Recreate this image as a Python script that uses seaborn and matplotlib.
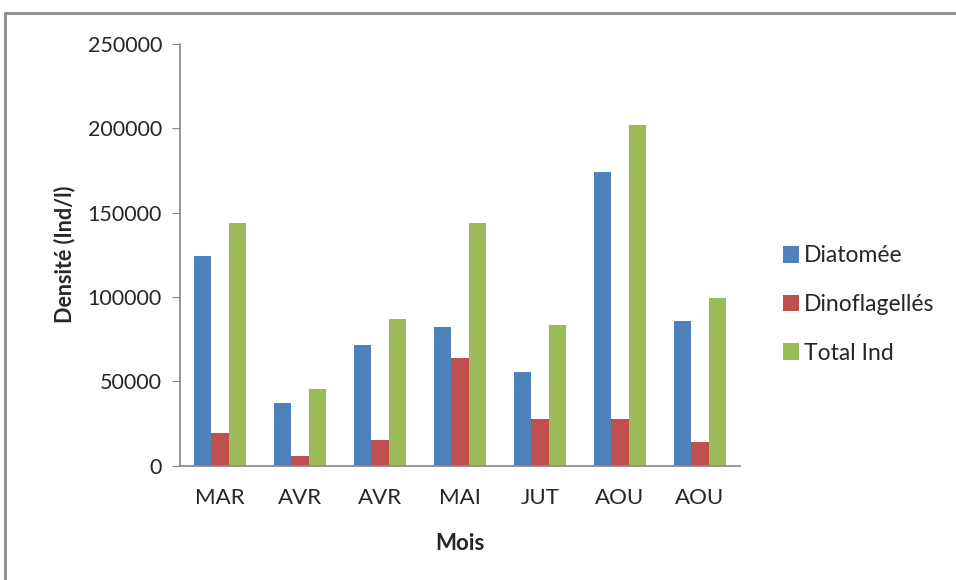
import pandas as pd
import seaborn as sns
import matplotlib.pyplot as plt
from matplotlib.patches import Rectangle

mois = ['MAR', 'AVR', 'AVR', 'MAI', 'JUT', 'AOU', 'AOU']
diatomee = [124000, 37000, 71500, 82000, 55500, 174000, 86000]
dinoflagelles = [19000, 5600, 15000, 63800, 27400, 27400, 13700]
total_ind = [144000, 45500, 87000, 144000, 83500, 202000, 99500]
series = ['Diatomée', 'Dinoflagellés', 'Total Ind']

rows = []
for i, m in enumerate(mois):
    for s, vals in zip(series, [diatomee, dinoflagelles, total_ind]):
        rows.append({'pos': i, 'serie': s, 'val': vals[i]})
df = pd.DataFrame(rows)

sns.set_style('white')
plt.rcParams['font.family'] = ['Lato', 'DejaVu Sans']

fig = plt.figure(figsize=(9.56, 5.8), dpi=100)
ax = fig.add_axes([0.1883, 0.1974, 0.5858, 0.7267])

sns.barplot(data=df, x='pos', y='val', hue='serie', hue_order=series,
            palette=['#4F81BD', '#C0504D', '#9BBB59'], width=0.66, gap=0,
            errorbar=None, saturation=1, ax=ax, edgecolor='none')

ax.set_xlim(-0.5, len(mois) - 0.5)
ax.set_ylim(0, 250000)
ax.set_yticks(range(0, 250001, 50000))
ax.set_xticks(range(len(mois)))
ax.set_xticklabels(mois)
ax.tick_params(axis='y', length=6, color='#868686', labelsize=15.5, pad=7, left=True)
ax.tick_params(axis='x', length=0, labelsize=16, pad=16)
for side in ['top', 'right']:
    ax.spines[side].set_visible(False)
for side in ['left', 'bottom']:
    ax.spines[side].set_color('#868686')
    ax.spines[side].set_linewidth(1.2)

ax.set_xlabel('Mois', fontsize=16, fontweight='bold', labelpad=18)
ax.set_ylabel('Densité (Ind/l)', fontsize=15.5, fontweight='bold', labelpad=9)

ax.legend(loc='center left', bbox_to_anchor=(0.797, 0.475), bbox_transform=fig.transFigure,
          frameon=False, fontsize=16.5, handlelength=0.7, handleheight=0.7,
          handletextpad=0.25, labelspacing=1.2)

fig.patches.append(Rectangle((0.005, -0.1), 1.2, 1.0776, transform=fig.transFigure,
                             fill=False, edgecolor='#8c8c8c', linewidth=2))

fig.savefig('out.png', dpi=100)
